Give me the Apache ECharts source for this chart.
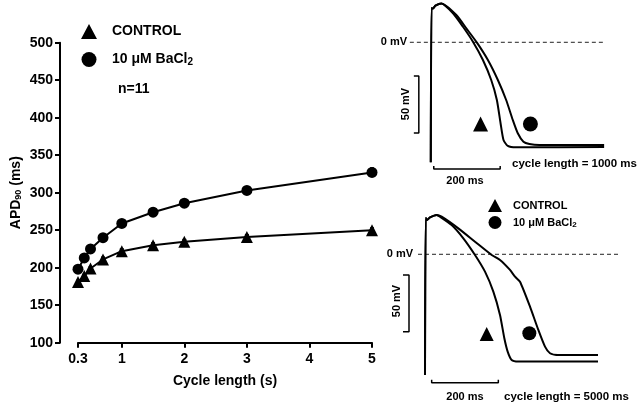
<!DOCTYPE html>
<html><head><meta charset="utf-8">
<script src="https://cdn.jsdelivr.net/npm/echarts@6/dist/echarts.min.js"></script>
<style>html,body{margin:0;padding:0;background:#fff}#c{width:640px;height:404px}</style>
</head><body><div id="c"></div>
<script>
// ---- main chart data ----
const cycleLengths = [0.3, 0.4, 0.5, 0.7, 1, 1.5, 2, 3, 5];
const apdControl   = [181, 189, 199, 211, 222, 230, 234.5, 241, 250];
const apdBaCl2     = [198, 213, 225, 240, 259, 274, 286, 303, 327];
const semControl   = [2, 2, 2, 3, 3, 3, 3, 3, 3];
const semBaCl2     = [2, 2, 3, 5, 5, 5, 4, 5, 6];
const xTickValues  = [0.3, 1, 2, 3, 4, 5];

// ---- action potential traces: [time ms, voltage mV] ----
const ap1000Control = [[0,-105],[2,30],[6,29.5],[14,32],[32,34],[67,25.4],[97,13.6],[127,0.5],[157,-15.5],[182,-33],[199,-50.5],[210,-70.6],[219,-85.5],[232,-90.7],[257,-91.9],[522,-91.6]];
const ap1000BaCl2   = [[0,-105],[2,30],[6,29.5],[14,32],[32,34],[77,23.9],[107,12.2],[139,-0.3],[172,-15.5],[202,-33],[227,-50.5],[247,-68],[262,-79.6],[279,-87],[297,-89],[327,-89.9],[522,-89.9]];
const ap5000Control = [[0,-105.6],[2,31.8],[6,30],[15,32.2],[35,34.4],[45,32.9],[80,25.6],[115,14],[150,-0.6],[180,-15.2],[205,-32.7],[225,-53.1],[238,-73.5],[248,-85.2],[260,-92.5],[280,-93.8],[519,-93.8]];
const ap5000BaCl2   = [[0,-105.6],[2,31.8],[6,30],[15,32.2],[35,34.4],[50,32.9],[100,22.7],[150,11],[200,-0.6],[225,-5],[255,-13.7],[270,-19.6],[285,-24],[315,-45.8],[340,-66.2],[360,-80.8],[375,-86.6],[399,-88.1],[519,-88.1]];

// reference lines / scale bars (ms, mV)
const zeroLine1 = [[-63,0],[525,0]];
const zeroLine2 = [[-21,0],[579,0]];
const vBar1 = [[-51,-29.5],[-36,-29.5],[-36,-79.4],[-51,-79.4]];
const vBar2 = [[-66,-18.1],[-48,-18.1],[-48,-67.7],[-66,-67.7]];
const hBar1 = [[9,-108.2],[9,-110.8],[209,-110.8],[209,-108.2]];
const hBar2 = [[20,-109.7],[20,-112.3],[220,-112.3],[220,-109.7]];
const markCtl1 = [[150,-71.5]], markBa1 = [[300,-71.5]];
const markCtl2 = [[185,-69.7]], markBa2 = [[313,-69.1]];

const FONT = '"Liberation Sans", Arial, sans-serif';
const NAME_CTL = 'CONTROL', NAME_BA = '10 μM BaCl2';
const chart = echarts.init(document.getElementById('c'), null, {renderer: 'canvas'});

const errSeries = (vals, sems) => ({
  type: 'custom', xAxisIndex: 0, yAxisIndex: 0, z: 1, silent: true,
  data: cycleLengths.map((x, i) => [x, vals[i] - sems[i], vals[i] + sems[i]]),
  renderItem: (params, api) => {
    const a = api.coord([api.value(0), api.value(1)]);
    const b = api.coord([api.value(0), api.value(2)]);
    return {type: 'group', children: [
      {type: 'line', shape: {x1: a[0], y1: a[1], x2: b[0], y2: b[1]}, style: {stroke: '#000', lineWidth: 1.5}},
      {type: 'line', shape: {x1: b[0]-2, y1: b[1], x2: b[0]+2, y2: b[1]}, style: {stroke: '#000', lineWidth: 1.5}}
    ]};
  }
});

const trace = (data, xi) => ({type: 'line', xAxisIndex: xi, yAxisIndex: xi, data: data, showSymbol: false, symbol: 'none',
  smooth: 0.2,
  lineStyle: {color: '#000', width: 2}, silent: true, animation: false});
const bar = (data, xi) => ({type: 'line', xAxisIndex: xi, yAxisIndex: xi, data: data, symbol: 'none',
  lineStyle: {color: '#000', width: 1.5}, silent: true, animation: false});
const zero = (data, xi) => ({type: 'line', xAxisIndex: xi, yAxisIndex: xi, data: data, symbol: 'none',
  lineStyle: {color: '#222', width: 1, type: [4, 3]}, silent: true, animation: false});
const mark = (data, xi, sym, size) => ({type: 'scatter', xAxisIndex: xi, yAxisIndex: xi, data: data, symbol: sym, symbolSize: size,
  itemStyle: {color: '#000', opacity: 1}, silent: true, animation: false});

const txt = (x, y, text, size, extra) => Object.assign({type: 'text', x: x, y: y,
  style: Object.assign({text: text, font: 'bold ' + size + 'px ' + FONT, fill: '#000', textVerticalAlign: 'middle'}, extra || {})});

const legendFmt = name => name === NAME_BA ? '{a|10 μM BaCl}{s|2}' : '{a|' + name + '}';
const legendRich = (fs, sfs) => ({
  a: {fontFamily: FONT, fontWeight: 'bold', fontSize: fs, color: '#000'},
  s: {fontFamily: FONT, fontWeight: 'bold', fontSize: sfs, color: '#000', verticalAlign: 'bottom', padding: [Math.round(fs * 0.45), 0, 0, 0]}
});

const option = {
  backgroundColor: '#fff',
  animation: false,
  textStyle: {fontFamily: FONT},
  grid: [
    {left: 78, top: 42.7, width: 294, height: 300},
    {left: 371, top: 0, width: 270, height: 200},
    {left: 365, top: 200, width: 270, height: 200}
  ],
  legend: [
    {orient: 'vertical', left: 76, top: 19, padding: 5, itemWidth: 16, itemHeight: 15, itemGap: 13,
     data: [{name: NAME_CTL, icon: 'triangle'}, {name: NAME_BA, icon: 'circle'}],
     formatter: legendFmt,
     textStyle: {fontFamily: FONT, fontWeight: 'bold', fontSize: 14, color: '#000', padding: [0, 0, 0, 10], rich: legendRich(14, 10)},
     selectedMode: false, itemStyle: {color: '#000', opacity: 1}},
    {orient: 'vertical', left: 483, top: 194, padding: 5, itemWidth: 14, itemHeight: 13, itemGap: 4,
     data: [{name: NAME_CTL, icon: 'triangle'}, {name: NAME_BA, icon: 'circle'}],
     formatter: legendFmt,
     textStyle: {fontFamily: FONT, fontWeight: 'bold', fontSize: 11, color: '#000', padding: [0, 0, 0, 6], rich: legendRich(11, 8)},
     selectedMode: false, itemStyle: {color: '#000', opacity: 1}}
  ],
  xAxis: [
    {gridIndex: 0, type: 'value', min: 0.3, max: 5,
     name: 'Cycle length (s)', nameLocation: 'middle', nameGap: 31,
     nameTextStyle: {fontFamily: FONT, fontWeight: 'bold', fontSize: 14, color: '#000'},
     axisLine: {show: true, lineStyle: {color: '#000', width: 2}},
     axisTick: {show: true, length: 5, customValues: xTickValues, lineStyle: {color: '#000', width: 2}},
     axisLabel: {customValues: xTickValues, margin: 9, fontFamily: FONT, fontWeight: 'bold', fontSize: 14, color: '#000',
       formatter: v => (Math.abs(v - 0.3) < 1e-6 ? '0.3' : String(Math.round(v)))},
     splitLine: {show: false}},
    {gridIndex: 1, type: 'value', min: -180, max: 630, show: false},
    {gridIndex: 2, type: 'value', min: -180, max: 630, show: false}
  ],
  yAxis: [
    {gridIndex: 0, type: 'value', min: 100, max: 500, interval: 50, offset: 18,
     name: '{a|APD}{s|90}{a| (ms)}', nameLocation: 'middle', nameGap: 37, nameRotate: 90,
     nameTextStyle: {color: '#000', rich: {
       a: {fontFamily: FONT, fontWeight: 'bold', fontSize: 14, color: '#000'},
       s: {fontFamily: FONT, fontWeight: 'bold', fontSize: 9, color: '#000', verticalAlign: 'bottom', padding: [5, 0, 0, 0]}}},
     axisLine: {show: true, lineStyle: {color: '#000', width: 2}},
     axisTick: {show: true, length: 5, lineStyle: {color: '#000', width: 2}},
     axisLabel: {margin: 7, fontFamily: FONT, fontWeight: 'bold', fontSize: 14, color: '#000'},
     splitLine: {show: false}},
    {gridIndex: 1, type: 'value', min: -138, max: 37, show: false},
    {gridIndex: 2, type: 'value', min: -127.5, max: 47.5, show: false}
  ],
  series: [
    errSeries(apdControl, semControl),
    errSeries(apdBaCl2, semBaCl2),
    {name: NAME_CTL, type: 'line', xAxisIndex: 0, yAxisIndex: 0, z: 3,
     data: cycleLengths.map((x, i) => [x, apdControl[i]]),
     symbol: 'triangle', symbolSize: 12, showAllSymbol: true,
     lineStyle: {color: '#000', width: 2}, itemStyle: {color: '#000', opacity: 1}},
    {name: NAME_BA, type: 'line', xAxisIndex: 0, yAxisIndex: 0, z: 3,
     data: cycleLengths.map((x, i) => [x, apdBaCl2[i]]),
     symbol: 'circle', symbolSize: 11, showAllSymbol: true,
     lineStyle: {color: '#000', width: 2}, itemStyle: {color: '#000', opacity: 1}},
    // panel 1 (cycle length 1000 ms)
    zero(zeroLine1, 1),
    trace(ap1000Control, 1),
    trace(ap1000BaCl2, 1),
    bar(vBar1, 1),
    bar(hBar1, 1),
    mark(markCtl1, 1, 'triangle', 15),
    mark(markBa1, 1, 'circle', 15),
    // panel 2 (cycle length 5000 ms)
    zero(zeroLine2, 2),
    trace(ap5000Control, 2),
    trace(ap5000BaCl2, 2),
    bar(vBar2, 2),
    bar(hBar2, 2),
    mark(markCtl2, 2, 'triangle', 14),
    mark(markBa2, 2, 'circle', 14)
  ],
  graphic: [
    txt(118, 89, 'n=11', 14),
    txt(407, 42, '0 mV', 11, {textAlign: 'right'}),
    txt(413, 254, '0 mV', 11, {textAlign: 'right'}),
    Object.assign(txt(406, 104, '50 mV', 11, {textAlign: 'center'}), {rotation: Math.PI / 2}),
    Object.assign(txt(397, 301, '50 mV', 11, {textAlign: 'center'}), {rotation: Math.PI / 2}),
    txt(465, 181, '200 ms', 11, {textAlign: 'center'}),
    txt(465, 397, '200 ms', 11, {textAlign: 'center'}),
    txt(512, 164, 'cycle length = 1000 ms', 11.5),
    txt(504, 397, 'cycle length = 5000 ms', 11.5)
  ]
};
chart.setOption(option);
</script>
</body></html>
